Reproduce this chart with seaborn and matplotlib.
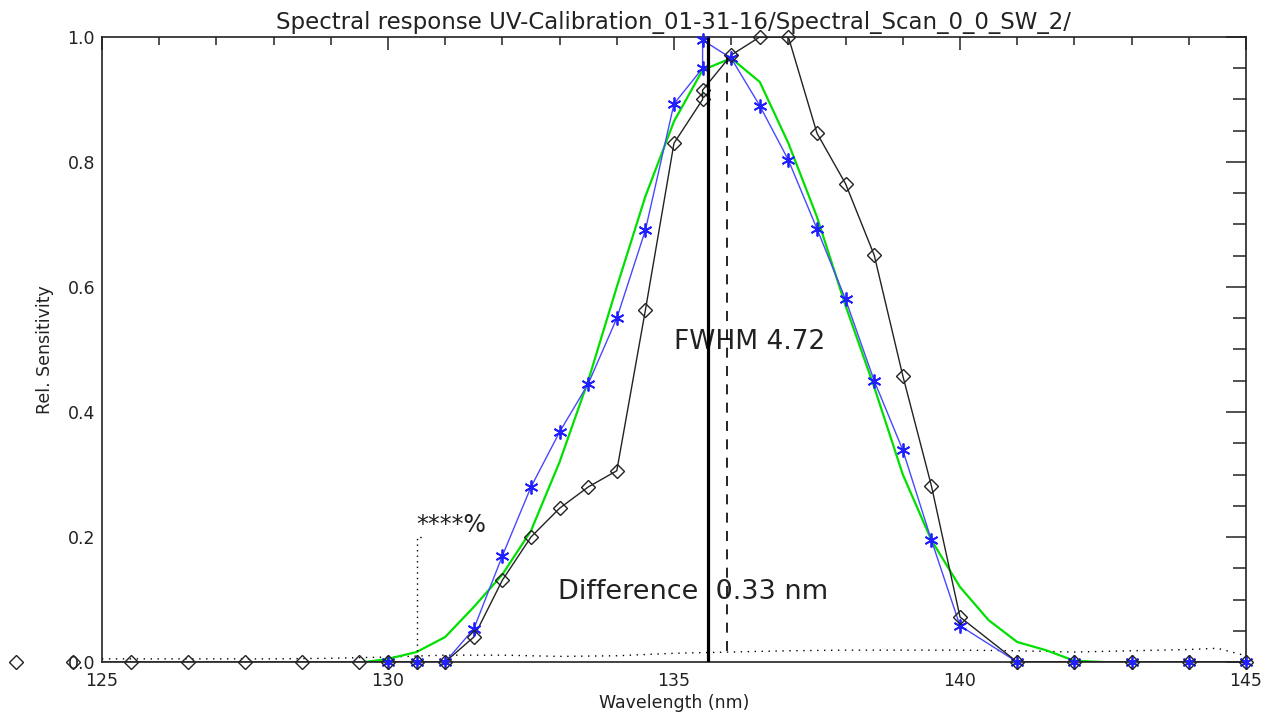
import seaborn as sns
import matplotlib.pyplot as plt
from matplotlib.ticker import MultipleLocator

# measured response (black diamonds)
black_wl = [123.5, 124.5, 125.5, 126.5, 127.5, 128.5, 129.5, 130, 130.5, 131, 131.5, 132, 132.5,
            133, 133.5, 134, 134.5, 135, 135.5, 135.5, 136, 136.5, 137, 137.5, 138, 138.5, 139,
            139.5, 140, 141, 142, 143, 144, 145]
black_sens = [0, 0, 0, 0, 0, 0, 0, 0, 0, 0, 0.04, 0.131, 0.20, 0.246, 0.28, 0.306, 0.563, 0.83,
              0.90, 0.915, 0.971, 1.0, 1.0, 0.846, 0.765, 0.651, 0.458, 0.282, 0.072, 0, 0, 0, 0, 0]

# reference response (blue asterisks)
blue_wl = [130, 130.5, 131, 131.5, 132, 132.5, 133, 133.5, 134, 134.5, 135, 135.5, 135.5, 136,
           136.5, 137, 137.5, 138, 138.5, 139, 139.5, 140, 141, 142, 143, 144, 145]
blue_sens = [0, 0, 0, 0.053, 0.17, 0.28, 0.368, 0.445, 0.55, 0.691, 0.893, 0.95, 0.995, 0.966,
             0.89, 0.803, 0.693, 0.58, 0.45, 0.339, 0.195, 0.058, 0, 0, 0, 0, 0]

# fitted profile (green)
green_wl = [129.6, 130, 130.5, 131, 131.5, 132, 132.5, 133, 133.5, 134, 134.5, 135, 135.5, 136,
            136.5, 137, 137.5, 138, 138.5, 139, 139.5, 140, 140.5, 141, 141.5, 142, 142.5]
green_sens = [0, 0.005, 0.016, 0.04, 0.088, 0.14, 0.21, 0.32, 0.45, 0.6, 0.745, 0.865, 0.947,
              0.966, 0.928, 0.83, 0.712, 0.57, 0.44, 0.30, 0.195, 0.12, 0.067, 0.032, 0.019,
              0.002, 0]

# background level (dotted)
bg_wl = [125, 126, 127, 128, 129, 130, 131, 132, 133, 134, 135, 136, 137, 138, 139, 140, 141,
         142, 143, 144, 144.5, 145]
bg_sens = [0.005, 0.005, 0.005, 0.005, 0.006, 0.008, 0.011, 0.011, 0.009, 0.01, 0.014, 0.016,
           0.018, 0.019, 0.019, 0.019, 0.018, 0.016, 0.018, 0.02, 0.022, 0.01]

peak_center = 135.59
peak_ref = 135.92
fwhm = 4.72
marker_wl = 130.5
marker_level = 0.2

sns.set_style("white")
plt.rcParams['font.family'] = ['DejaVu Sans']
txt = '#222222'

fig = plt.figure(figsize=(12.73, 7.15), dpi=100)
ax = fig.add_axes([0.0801, 0.0741, 0.8987, 0.8742])

# background
sns.lineplot(x=bg_wl, y=bg_sens, ax=ax, color='black', linestyle=(0, (1, 4)),
             linewidth=1.0, sort=False, estimator=None)

# green fit
sns.lineplot(x=green_wl, y=green_sens, ax=ax, color='#00e000', linewidth=1.6,
             sort=False, estimator=None)

# blue curve
sns.lineplot(x=blue_wl, y=blue_sens, ax=ax, color='#4848ff', linewidth=1.0,
             sort=False, estimator=None)
ax.plot(blue_wl, blue_sens, linestyle='none', marker=(6, 2, 0), markersize=10,
        markeredgecolor='#2020ff', markeredgewidth=1.3, clip_on=False, zorder=4)

# black curve
sns.lineplot(x=black_wl, y=black_sens, ax=ax, color='#222222', linewidth=1.0,
             sort=False, estimator=None)
ax.plot(black_wl, black_sens, linestyle='none', marker='D', markersize=7,
        markerfacecolor='none', markeredgecolor='#222222', markeredgewidth=1.0,
        clip_on=False, zorder=5)

# vertical markers
ax.vlines(peak_center, 0, 1, color='black', linewidth=2.3, zorder=6)
ax.vlines(peak_ref, 0.017, 0.968, color='black', linewidth=1.2,
          linestyles=(0, (6, 5)), zorder=6)
ax.plot([marker_wl, marker_wl, marker_wl + 0.15], [0, marker_level, marker_level],
        color='black', linestyle=(0, (1, 3)), linewidth=1.0)
ax.text(marker_wl, marker_level, '****%', fontsize=17, va='bottom', ha='left', color=txt)

ax.text(135.0, 0.512, f'FWHM {fwhm:.2f}', fontsize=19, va='center', ha='left', color=txt)
ax.text(132.97, 0.112, f'Difference  {peak_ref - peak_center:.2f} nm', fontsize=19.5,
        va='center', ha='left', color=txt)

ax.set_xlim(125, 145)
ax.set_ylim(0, 1)
ax.xaxis.set_major_locator(MultipleLocator(5))
ax.xaxis.set_minor_locator(MultipleLocator(1))
ax.yaxis.set_major_locator(MultipleLocator(0.2))
ax.yaxis.set_minor_locator(MultipleLocator(0.05))
ax.yaxis.set_major_formatter(plt.FormatStrFormatter('%.1f'))
ax.tick_params(axis='both', which='both', direction='in', top=True, right=True,
               color='#222222', width=1.1, labelsize=12.5, labelcolor=txt)
ax.tick_params(axis='x', which='major', length=9.5, pad=7)
ax.tick_params(axis='x', which='minor', length=5.5)
ax.tick_params(axis='y', which='major', length=14.5, pad=5)
ax.tick_params(axis='y', which='minor', length=9.5)
for s in ax.spines.values():
    s.set_linewidth(1.2)
    s.set_color('#222222')

ax.set_xlabel('Wavelength (nm)', fontsize=12.5, labelpad=3, color=txt)
ax.set_ylabel('Rel. Sensitivity', fontsize=12.5, labelpad=10, color=txt)
ax.set_title('Spectral response UV-Calibration_01-31-16/Spectral_Scan_0_0_SW_2/',
             fontsize=16.5, pad=6, color=txt)

fig.savefig('out.png', dpi=100)
